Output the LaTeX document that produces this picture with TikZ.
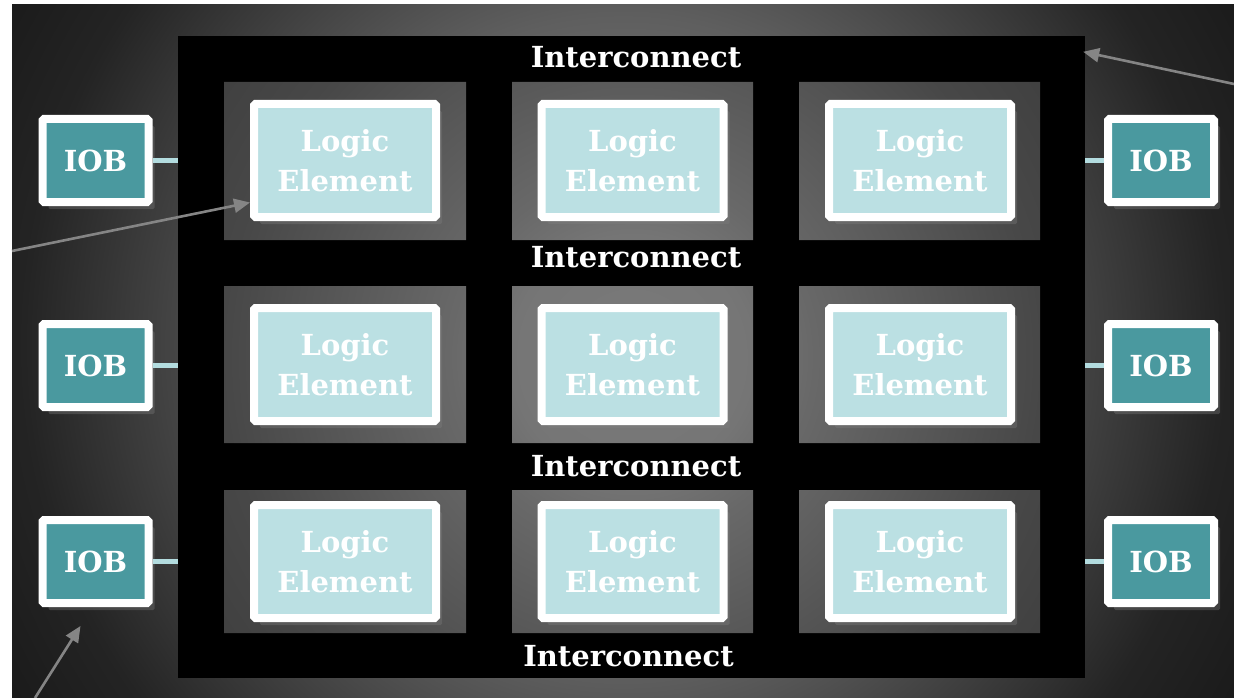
\documentclass[tikz,border=0pt]{standalone}
\usepackage{fontspec}
\setmainfont{DejaVu Serif}
\usetikzlibrary{arrows.meta,shadows}

\definecolor{lebl}{HTML}{BBE0E3}
\definecolor{iobt}{HTML}{4A999F}
\definecolor{wirec}{HTML}{B3DCDF}
\definecolor{ptrc}{HTML}{858585}

\pgfdeclareradialshading{bgshade}{\pgfpoint{0bp}{0bp}}{color(0bp)=(black!42); color(11bp)=(black!63); color(20bp)=(black!86); color(25bp)=(black!91); color(50bp)=(black!91)}
\pgfdeclareradialshading{tileshade}{\pgfpoint{0bp}{0bp}}{color(0bp)=(black!52); color(5bp)=(black!54); color(7.5bp)=(black!59); color(17bp)=(black!72); color(21bp)=(black!75); color(50bp)=(black!75)}

\def\lw{182pt}
\def\lh{113pt}
\def\bw{106pt}
\def\bh{83pt}
\tikzstyle{ic}=[rectangle,fill=black,inner sep=0pt,minimum width=907pt,minimum height=642pt]
\tikzstyle{le}=[rectangle,draw=white,line width=8pt,fill=lebl,rounded corners=1.5pt,minimum width=\lw,minimum height=\lh,inner sep=0pt,text=white,align=center,font=\bfseries\fontsize{29}{40}\selectfont,drop shadow={opacity=.35,shadow xshift=6pt,shadow yshift=-7pt}]
\tikzstyle{iob}=[rectangle,draw=white,line width=8pt,fill=iobt,rounded corners=1.5pt,minimum width=\bw,minimum height=\bh,inner sep=0pt,text=white,font=\bfseries\fontsize{29}{40}\selectfont,drop shadow={opacity=.35,shadow xshift=6pt,shadow yshift=-7pt}]
\tikzstyle{lbl}=[text=white,inner sep=0pt,font=\bfseries\fontsize{29}{40}\selectfont]
\tikzstyle{wire}=[-,draw=wirec,line width=5pt]
\tikzstyle{ptr}=[-{Triangle[length=16pt,width=14pt]},draw=ptrc,fill=ptrc,line width=2.6pt]

\begin{document}
\begin{tikzpicture}[x=1pt,y=-1pt]
\useasboundingbox (0,0) rectangle (1234,698);
\fill[white] (0,0) rectangle (1234,698);
\begin{scope}
\clip (12,5) rectangle (1234,698);
\shade[shading=bgshade] (623,345) circle (750);
\end{scope}

\node[ic](ic) at (631.5,357){};
\begin{scope}
\clip
 (224,82) rectangle (466,240) (512,82) rectangle (753,240) (799,82) rectangle (1040,240)
 (224,286) rectangle (466,443) (512,286) rectangle (753,443) (799,286) rectangle (1040,443)
 (224,490) rectangle (466,633) (512,490) rectangle (753,633) (799,490) rectangle (1040,633);
\shade[shading=tileshade] (632,357) circle (600);
\end{scope}

\node[lbl](ict1) at (636,57.5){Interconnect};
\node[lbl](ict2) at (636,257){Interconnect};
\node[lbl](ict3) at (636,466){Interconnect};
\node[lbl](ict4) at (628.5,656){Interconnect};

\node[le](le11) at (345,160.5){Logic\\Element};
\node[le](le12) at (632.5,160.5){Logic\\Element};
\node[le](le13) at (920,160.5){Logic\\Element};
\node[le](le21) at (345,364.5){Logic\\Element};
\node[le](le22) at (632.5,364.5){Logic\\Element};
\node[le](le23) at (920,364.5){Logic\\Element};
\node[le](le31) at (345,561.5){Logic\\Element};
\node[le](le32) at (632.5,561.5){Logic\\Element};
\node[le](le33) at (920,561.5){Logic\\Element};

\node[iob](iobl1) at (95.5,160.5){IOB};
\node[iob](iobl2) at (95.5,365.5){IOB};
\node[iob](iobl3) at (95.5,561.5){IOB};
\node[iob](iobr1) at (1161,160.5){IOB};
\node[iob](iobr2) at (1161,365.5){IOB};
\node[iob](iobr3) at (1161,561.5){IOB};

\draw[wire](iobl1)--(iobl1 -| ic.west);
\draw[wire](iobl2)--(iobl2 -| ic.west);
\draw[wire](iobl3)--(iobl3 -| ic.west);
\draw[wire](iobr1)--(iobr1 -| ic.east);
\draw[wire](iobr2)--(iobr2 -| ic.east);
\draw[wire](iobr3)--(iobr3 -| ic.east);

\coordinate(p1) at (12,251);
\coordinate(p2) at (1234,84);
\coordinate(p3) at (35,698);
\draw[ptr](p1)--([yshift=-42pt]le11.west);
\draw[ptr](p2)--([shift={(-2pt,-16pt)}]ic.north east);
\draw[ptr](p3)--([shift={(-15pt,-19pt)}]iobl3.south);
\end{tikzpicture}
\end{document}
